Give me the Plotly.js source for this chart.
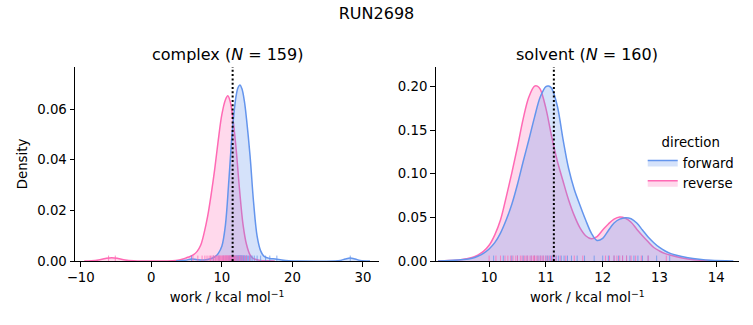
<!DOCTYPE html>
<html><head><meta charset="utf-8">
<script src="https://cdn.plot.ly/plotly-3.0.1.min.js"></script>
<style>html,body{margin:0;padding:0;background:#fff}</style>
</head><body><div id="chart" style="width:753px;height:325px"></div>
<script>
// ---- complex panel: KDE curves ----
const complexRevX = [-9.5,-8.5,-7.5,-6.5,-5.6,-4.7,-3.7,-2.5,-1,2,3.5,4.5,5.0,5.5,6.0,6.5,7.0,7.5,8.0,8.5,9.0,9.5,10.0,10.5,10.85,11.2,11.5,12.0,12.5,13.0,13.5,14.0,14.5,15.5,16.5,17.5];
const complexRevY = [0,0.0001,0.0004,0.0010,0.0013,0.0010,0.0004,0.0001,0,0,0.0002,0.0008,0.0013,0.0018,0.0025,0.0038,0.0062,0.0112,0.0178,0.0265,0.0365,0.0478,0.0578,0.0636,0.0652,0.0628,0.0578,0.0451,0.0285,0.0145,0.0065,0.0024,0.0009,0.0002,0.0001,0];
const complexFwdX = [3.5,4.8,5.7,6.5,7.5,8.5,9.0,9.5,10.0,10.5,11.0,11.5,12.0,12.3,12.56,12.85,13.2,13.5,14.0,14.5,15.0,15.5,16.0,16.8,17.6,18.5,19.5,21,26,26.8,27.5,28.2,28.9,29.6,31];
const complexFwdY = [0,0.0003,0.0008,0.0005,0.0004,0.0010,0.0016,0.0030,0.0058,0.0140,0.0320,0.0518,0.0648,0.0685,0.0695,0.0680,0.0630,0.0560,0.0415,0.0232,0.0098,0.0040,0.0018,0.0010,0.0008,0.0004,0.0001,0,0,0.0002,0.0008,0.0012,0.0008,0.0002,0];
// ---- solvent panel ----
const solventRevX = [9.1,9.3,9.5,9.6,9.7,9.8,9.9,10.0,10.1,10.2,10.3,10.4,10.5,10.6,10.7,10.8,10.85,10.9,11.0,11.1,11.2,11.3,11.4,11.5,11.6,11.7,11.8,11.9,12.0,12.1,12.2,12.3,12.4,12.5,12.6,12.7,12.8,12.9,13.0,13.1,13.2,13.4,13.6,13.8,14.1];
const solventRevY = [0,0.0005,0.0015,0.0025,0.0040,0.0068,0.011,0.018,0.030,0.047,0.073,0.101,0.131,0.163,0.188,0.2005,0.2005,0.197,0.175,0.143,0.115,0.092,0.070,0.052,0.038,0.029,0.0255,0.028,0.0355,0.0425,0.048,0.0505,0.049,0.0445,0.0365,0.029,0.022,0.0155,0.0115,0.0085,0.0065,0.0035,0.0015,0.0005,0];
const solventFwdX = [9.1,9.3,9.5,9.6,9.7,9.8,9.9,10.0,10.1,10.2,10.3,10.4,10.5,10.6,10.7,10.8,10.9,11.0,11.05,11.1,11.2,11.3,11.4,11.5,11.6,11.7,11.8,11.9,12.0,12.1,12.2,12.3,12.4,12.5,12.6,12.7,12.8,12.9,13.0,13.1,13.2,13.3,13.5,13.7,13.9,14.3];
const solventFwdY = [0,0.0005,0.0013,0.0020,0.0032,0.0055,0.0088,0.0138,0.021,0.032,0.047,0.065,0.088,0.114,0.139,0.165,0.188,0.2000,0.2005,0.198,0.178,0.140,0.106,0.082,0.064,0.047,0.032,0.0235,0.026,0.035,0.0435,0.048,0.0497,0.0485,0.0435,0.0355,0.0275,0.021,0.0155,0.0115,0.0085,0.0065,0.0038,0.002,0.0008,0];
// ---- rug samples (estimated) ----
const complexRevRug = [-6.05,-5.1,5.9,6.6,7.2,7.6,7.9,8.2,8.4,8.6,8.8,8.9,9.1,9.2,9.35,9.5,9.6,9.7,9.8,9.9,10.0,10.1,10.2,10.25,10.35,10.4,10.5,10.55,10.6,10.7,10.75,10.8,10.85,10.9,11.0,11.05,11.1,11.2,11.25,11.3,11.4,11.5,11.6,11.7,11.8,11.9,12.0,12.15,12.3,12.5,12.7,12.9,13.2,13.5,13.95];
const complexFwdRug = [5.7,8.8,9.6,10.2,10.6,10.9,11.1,11.3,11.45,11.6,11.7,11.8,11.9,12.0,12.05,12.1,12.2,12.25,12.3,12.35,12.4,12.45,12.5,12.55,12.6,12.65,12.7,12.75,12.8,12.85,12.9,13.0,13.05,13.1,13.2,13.3,13.4,13.5,13.6,13.75,13.9,14.1,14.3,14.6,15.0,15.5,16.2,16.8,17.8,28.2];
const solventRevRug = [10.0,10.12,10.2,10.28,10.33,10.38,10.42,10.47,10.5,10.55,10.58,10.62,10.65,10.68,10.72,10.75,10.78,10.8,10.83,10.86,10.9,10.93,10.96,11.0,11.04,11.08,11.12,11.18,11.25,11.35,11.5,11.65,12.05,12.12,12.2,12.25,12.3,12.35,12.42,12.5,12.58,12.68,12.8,13.12];
const solventFwdRug = [10.08,10.25,10.4,10.5,10.6,10.67,10.74,10.8,10.86,10.9,10.95,11.0,11.03,11.07,11.1,11.14,11.18,11.22,11.27,11.32,11.38,11.45,11.55,11.68,11.85,12.0,12.1,12.2,12.28,12.35,12.42,12.48,12.55,12.62,12.7,12.8,12.95,13.18];
// dotted reference lines
const vlineX = [11.53, 11.14];
// axes
const complexXTicks = [-10,0,10,20,30];
const solventXTicks = [10,11,12,13,14];
const complexXRange = [-10.81, 32.3], complexYRange = [0, 0.0766];
const solventXRange = [9.057, 14.40], solventYRange = [0, 0.2224];

const BLUE = '#6495ED', PINK = '#FF69B4';
const BLUE_F = 'rgba(100,149,237,0.27)', PINK_F = 'rgba(255,105,180,0.25)';
const FONT = 'DejaVu Sans';

function kde(x, y, xa, ya, name, col, fill, show) {
  return {type:'scatter', mode:'lines', x:x, y:y, xaxis:xa, yaxis:ya, name:name,
    line:{color:col, width:1.5, shape:'spline', smoothing:1},
    fill:'tozeroy', fillcolor:fill, showlegend:show, legendgroup:name,
    legendrank: name==='forward'?1:2, hoverinfo:'skip'};
}
function rug(vals, h, xa, ya, col) {
  const xs=[], ys=[];
  vals.forEach(v => { xs.push(v, v, null); ys.push(0, h, null); });
  return {type:'scatter', mode:'lines', x:xs, y:ys, xaxis:xa, yaxis:ya,
    line:{color:col, width:1}, opacity:0.75, showlegend:false, hoverinfo:'skip'};
}
const hC = 0.028*complexYRange[1], hS = 0.028*solventYRange[1];
const data = [
  kde(complexRevX, complexRevY, 'x', 'y', 'reverse', PINK, PINK_F, false),
  kde(complexFwdX, complexFwdY, 'x', 'y', 'forward', BLUE, BLUE_F, false),
  kde(solventRevX, solventRevY, 'x2', 'y2', 'reverse', PINK, PINK_F, true),
  kde(solventFwdX, solventFwdY, 'x2', 'y2', 'forward', BLUE, BLUE_F, true),
  rug(complexFwdRug, hC, 'x', 'y', BLUE),
  rug(complexRevRug, hC, 'x', 'y', PINK),
  rug(solventFwdRug, hS, 'x2', 'y2', BLUE),
  rug(solventRevRug, hS, 'x2', 'y2', PINK)
];
const axBase = {showline:true, linecolor:'black', linewidth:1, ticks:'outside', ticklen:4.5,
  tickwidth:1, tickcolor:'black', showgrid:false, zeroline:false, fixedrange:true,
  tickfont:{family:FONT, size:13.3, color:'black'}};
const xlab = 'work / kcal mol<sup>−1</sup>';
const layout = {
  width:753, height:325, paper_bgcolor:'white', plot_bgcolor:'rgba(0,0,0,0)',
  margin:{l:75, r:13.7, t:66.7, b:64},
  font:{family:FONT, size:13.3, color:'black'},
  title:{text:'RUN2698', x:0.5, xref:'container', y:1-13/325, yref:'container', yanchor:'middle',
    font:{family:FONT, size:16, color:'black'}},
  xaxis:Object.assign({}, axBase, {domain:[0, 0.4581], range:complexXRange, tickvals:complexXTicks,
    title:{text:xlab, font:{family:FONT, size:13.3, color:'black'}, standoff:8}}),
  yaxis:Object.assign({}, axBase, {domain:[0,1], range:complexYRange, dtick:0.02, tick0:0, tickformat:'.2f',
    title:{text:'Density', font:{family:FONT, size:13.3, color:'black'}, standoff:6}}),
  xaxis2:Object.assign({}, axBase, {domain:[0.543, 1], range:solventXRange, tickvals:solventXTicks, anchor:'y2',
    title:{text:xlab, font:{family:FONT, size:13.3, color:'black'}, standoff:8}}),
  yaxis2:Object.assign({}, axBase, {domain:[0,1], range:solventYRange, dtick:0.05, tick0:0, tickformat:'.2f', anchor:'x2'}),
  shapes:[
    {type:'line', xref:'x', yref:'y domain', x0:vlineX[0], x1:vlineX[0], y0:0, y1:1, line:{color:'black', width:2, dash:'2px,2.3px'}},
    {type:'line', xref:'x2', yref:'y2 domain', x0:vlineX[1], x1:vlineX[1], y0:0, y1:1, line:{color:'black', width:2, dash:'2px,2.3px'}}
  ],
  annotations:[
    {text:'complex (<i>N</i> = 159)', xref:'x domain', x:0.5, yref:'paper', y:1, yanchor:'middle', yshift:12.7, showarrow:false, font:{family:FONT, size:16, color:'black'}},
    {text:'solvent (<i>N</i> = 160)', xref:'x2 domain', x:0.5, yref:'paper', y:1, yanchor:'middle', yshift:12.7, showarrow:false, font:{family:FONT, size:16, color:'black'}}
  ],
  showlegend:true,
  legend:{x:0.855, xanchor:'left', y:0.675, yanchor:'top', bgcolor:'rgba(0,0,0,0)',
    font:{family:FONT, size:13.3, color:'black'}, traceorder:'normal',
    title:{text:'direction', side:'top center', font:{family:FONT, size:13.3, color:'black'}}}
};
Plotly.newPlot('chart', data, layout, {displayModeBar:false, staticPlot:true});
</script></body></html>
